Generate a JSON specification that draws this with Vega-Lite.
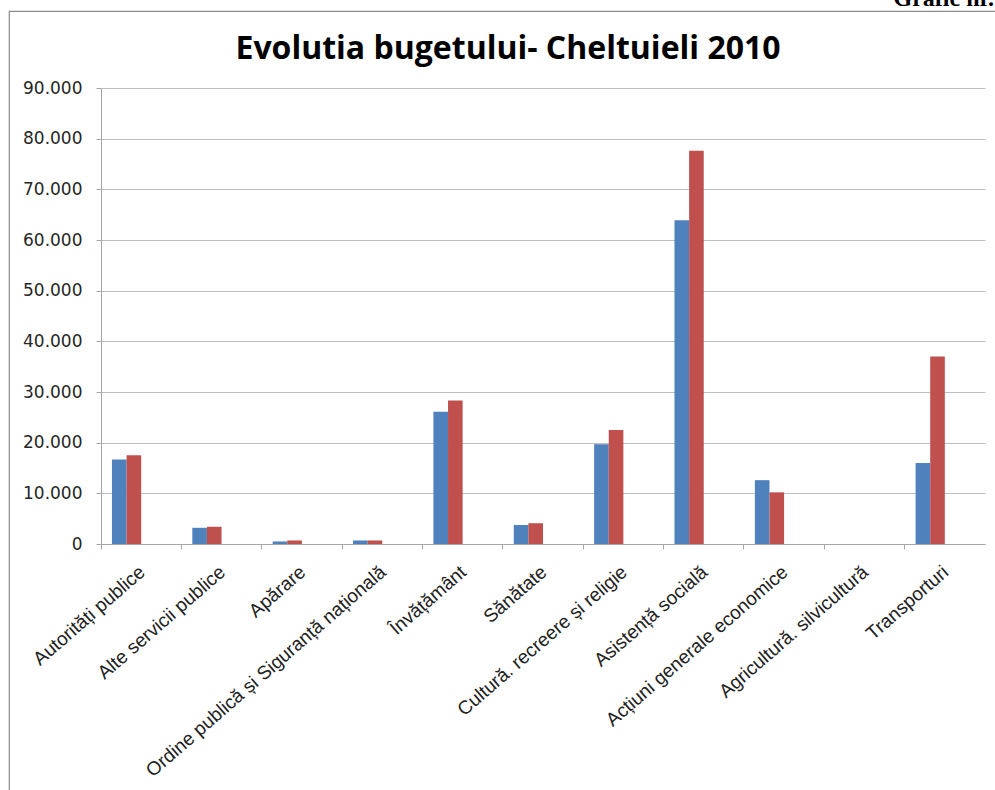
{
  "$schema": "https://vega.github.io/schema/vega-lite/v6.json",
  "autosize": {"type": "none"},
  "padding": {"left": 9, "top": 11, "right": -6, "bottom": -6},
  "width": 992,
  "height": 785,
  "background": "white",
  "config": {"view": {"stroke": "#8c8c8c", "strokeWidth": 1.2}},
  "title": {
    "text": "Evolutia bugetului- Cheltuieli 2010",
    "font": "Open Sans",
    "fontSize": 32,
    "fontWeight": "bold",
    "color": "#000000",
    "anchor": "middle",
    "frame": "group",
    "baseline": "alphabetic",
    "offset": -105,
    "dx": 3
  },
  "data": {
    "values": [
      {"categorie": "Autorități publice", "serie": "Serie 1", "valoare": 16700},
      {"categorie": "Autorități publice", "serie": "Serie 2", "valoare": 17500},
      {"categorie": "Alte servicii publice", "serie": "Serie 1", "valoare": 3200},
      {"categorie": "Alte servicii publice", "serie": "Serie 2", "valoare": 3400},
      {"categorie": "Apărare", "serie": "Serie 1", "valoare": 500},
      {"categorie": "Apărare", "serie": "Serie 2", "valoare": 700},
      {"categorie": "Ordine publică și Siguranță națională", "serie": "Serie 1", "valoare": 700},
      {"categorie": "Ordine publică și Siguranță națională", "serie": "Serie 2", "valoare": 700},
      {"categorie": "Învățământ", "serie": "Serie 1", "valoare": 26100},
      {"categorie": "Învățământ", "serie": "Serie 2", "valoare": 28300},
      {"categorie": "Sănătate", "serie": "Serie 1", "valoare": 3750},
      {"categorie": "Sănătate", "serie": "Serie 2", "valoare": 4100},
      {"categorie": "Cultură. recreere și religie", "serie": "Serie 1", "valoare": 19700},
      {"categorie": "Cultură. recreere și religie", "serie": "Serie 2", "valoare": 22500},
      {"categorie": "Asistență socială", "serie": "Serie 1", "valoare": 63900},
      {"categorie": "Asistență socială", "serie": "Serie 2", "valoare": 77600},
      {"categorie": "Acțiuni generale economice", "serie": "Serie 1", "valoare": 12600},
      {"categorie": "Acțiuni generale economice", "serie": "Serie 2", "valoare": 10200},
      {"categorie": "Agricultură. silvicultură", "serie": "Serie 1", "valoare": 0},
      {"categorie": "Agricultură. silvicultură", "serie": "Serie 2", "valoare": 0},
      {"categorie": "Transporturi", "serie": "Serie 1", "valoare": 16000},
      {"categorie": "Transporturi", "serie": "Serie 2", "valoare": 37000}
    ]
  },
  "mark": {"type": "bar"},
  "encoding": {
    "x": {
      "field": "categorie",
      "type": "nominal",
      "sort": null,
      "scale": {"range": [92, 976], "paddingInner": 0, "paddingOuter": 0},
      "axis": {
        "orient": "bottom",
        "offset": -252,
        "title": null,
        "bandPosition": 0,
        "labelOffset": 1,
        "labelAngle": -41,
        "labelAlign": "right",
        "labelBaseline": "middle",
        "labelFont": "Liberation Sans",
        "labelFontSize": 19,
        "labelColor": "#222222",
        "labelPadding": 20,
        "labelLimit": 0,
        "labelOverlap": false,
        "tickSize": 5,
        "tickColor": "#A6A6A6",
        "domainColor": "#A6A6A6",
        "grid": false
      }
    },
    "xOffset": {
      "field": "serie",
      "type": "nominal",
      "scale": {"domain": ["Serie 1", "Serie 2", "Serie 3", "Serie 4"], "paddingInner": 0, "paddingOuter": 0.75}
    },
    "y": {
      "field": "valoare",
      "type": "quantitative",
      "scale": {"domain": [0, 90000], "range": [533, 77], "nice": false, "zero": true},
      "axis": {
        "orient": "left",
        "offset": -92,
        "values": [0, 10000, 20000, 30000, 40000, 50000, 60000, 70000, 80000, 90000],
        "labelExpr": "datum.value == 0 ? '0' : replace(format(datum.value, ','), ',', '.')",
        "labelFont": "DejaVu Sans",
        "labelFontSize": 17,
        "labelColor": "#262626",
        "labelPadding": 14,
        "tickSize": 5,
        "tickColor": "#A6A6A6",
        "domainColor": "#A6A6A6",
        "grid": true,
        "gridColor": "#BFBFBF",
        "title": "Grafic nr.",
        "titleAngle": 0,
        "titleX": 792,
        "titleY": -6,
        "titleAlign": "left",
        "titleBaseline": "alphabetic",
        "titleFont": "Liberation Serif",
        "titleFontSize": 24,
        "titleFontWeight": "bold",
        "titleColor": "#000000"
      }
    },
    "color": {
      "field": "serie",
      "type": "nominal",
      "scale": {"domain": ["Serie 1", "Serie 2"], "range": ["#4F81BD", "#C0504D"]},
      "legend": null
    }
  }
}
